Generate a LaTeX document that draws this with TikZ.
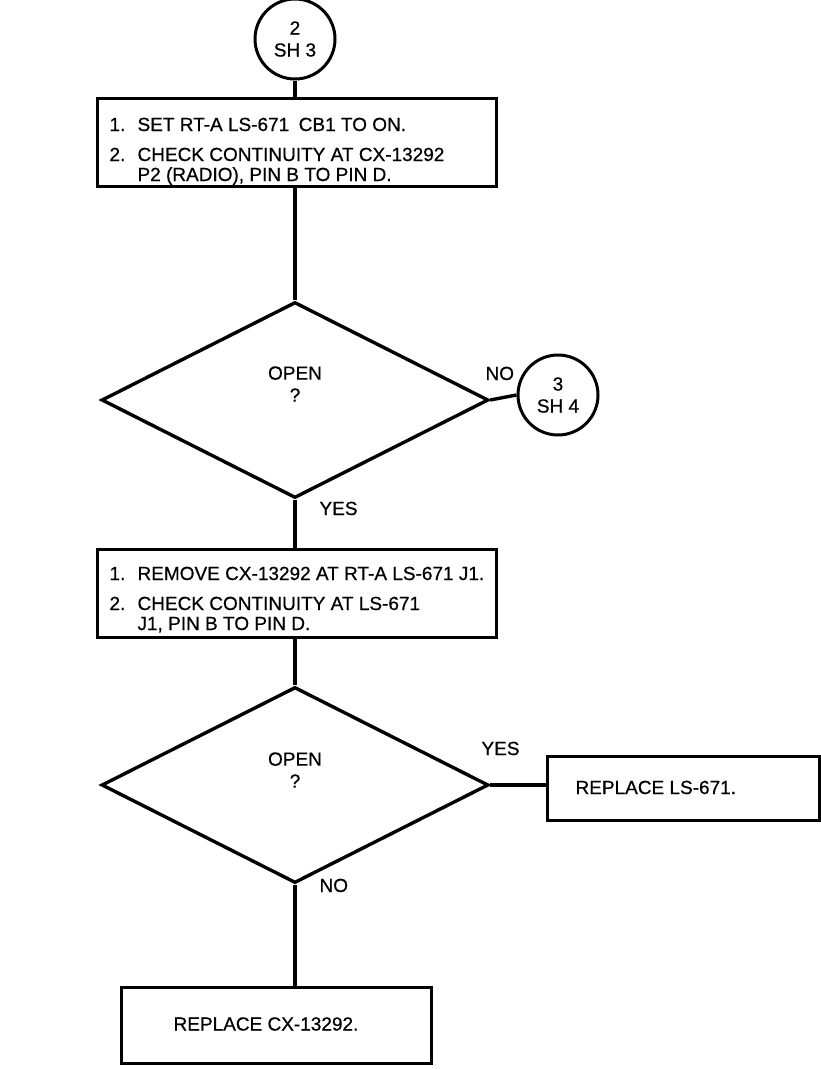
\documentclass[tikz,border=0pt]{standalone}
\usepackage{fontspec}
\setmainfont{Liberation Sans}[FakeBold=0.6]
\usetikzlibrary{shapes.geometric}

\tikzset{
  flow/.style={line width=3.4pt},
  stepbox/.style={draw,line width=3.4pt,anchor=north west,inner sep=0pt},
  sheetref/.style={draw,circle,line width=3pt,minimum size=80pt,inner sep=0pt,align=center,font=\fontsize{19}{22}\selectfont},
  decision/.style={draw,diamond,line width=3.4pt,minimum width=387pt,minimum height=196pt,inner sep=0pt},
  item/.style={anchor=base west},
}

\begin{document}
\begin{tikzpicture}[x=1pt,y=-1pt,every node/.style={font=\fontsize{19}{22}\selectfont}]
\useasboundingbox (0,0) rectangle (820,1069);
% entry from sheet 3
\node[sheetref] (from2) at (295,39) {2\\SH 3};
% first check
\node[stepbox,minimum width=399pt,minimum height=88pt] (step1) at (96,97) {};
\node[item] (s1n1) at (106,131) {1.};
\node[item] (s1t1) at (134,131) {SET RT-A LS-671\enspace CB1 TO ON.};
\node[item] (s1n2) at (106,161) {2.};
\node[item] (s1t2) at (134,161) {CHECK CONTINUITY AT CX-13292};
\node[item] (s1t3) at (134,181) {P2 (RADIO), PIN B TO PIN D.};
% first decision
\node[decision] (open1) at (295,400) {};
\node[align=center] (q1) at (295,384) {OPEN\\?};
\node[item] (no1) at (482,380) {NO};
\node[sheetref] (to3) at (558,395) {3\\SH 4};
\node[item] (yes1) at (316,515) {YES};
% second check
\node[stepbox,minimum width=399pt,minimum height=88pt] (step2) at (96,548) {};
\node[item] (s2n1) at (106,580) {1.};
\node[item] (s2t1) at (134,580) {REMOVE CX-13292 AT RT-A LS-671 J1.};
\node[item] (s2n2) at (106,610) {2.};
\node[item] (s2t2) at (134,610) {CHECK CONTINUITY AT LS-671};
\node[item] (s2t3) at (134,630) {J1, PIN B TO PIN D.};
% second decision
\node[decision] (open2) at (295,785) {};
\node[align=center] (q2) at (295,770) {OPEN\\?};
\node[item] (yes2) at (478,755) {YES};
\node[stepbox,minimum width=272pt,minimum height=64pt] (repls) at (546,755) {};
\node[item] (replst) at (572,794) {REPLACE LS-671.};
\node[item] (no2) at (316,892) {NO};
% replace cable
\node[stepbox,minimum width=310pt,minimum height=76pt] (replcx) at (120,986) {};
\node (replcxt) at (266,1024) {REPLACE CX-13292.};
% connectors
\draw[flow] (from2.south) -- (from2 |- step1.north);
\draw[flow] (open1 |- step1.south) -- (open1.north);
\draw[flow] (open1.east) -- (to3.west);
\draw[flow] (open1.south) -- (open1 |- step2.north);
\draw[flow] (open2 |- step2.south) -- (open2.north);
\draw[flow] (open2.east) -- (repls.west |- open2.east);
\draw[flow] (open2.south) -- (open2 |- replcx.north);
\end{tikzpicture}
\end{document}
